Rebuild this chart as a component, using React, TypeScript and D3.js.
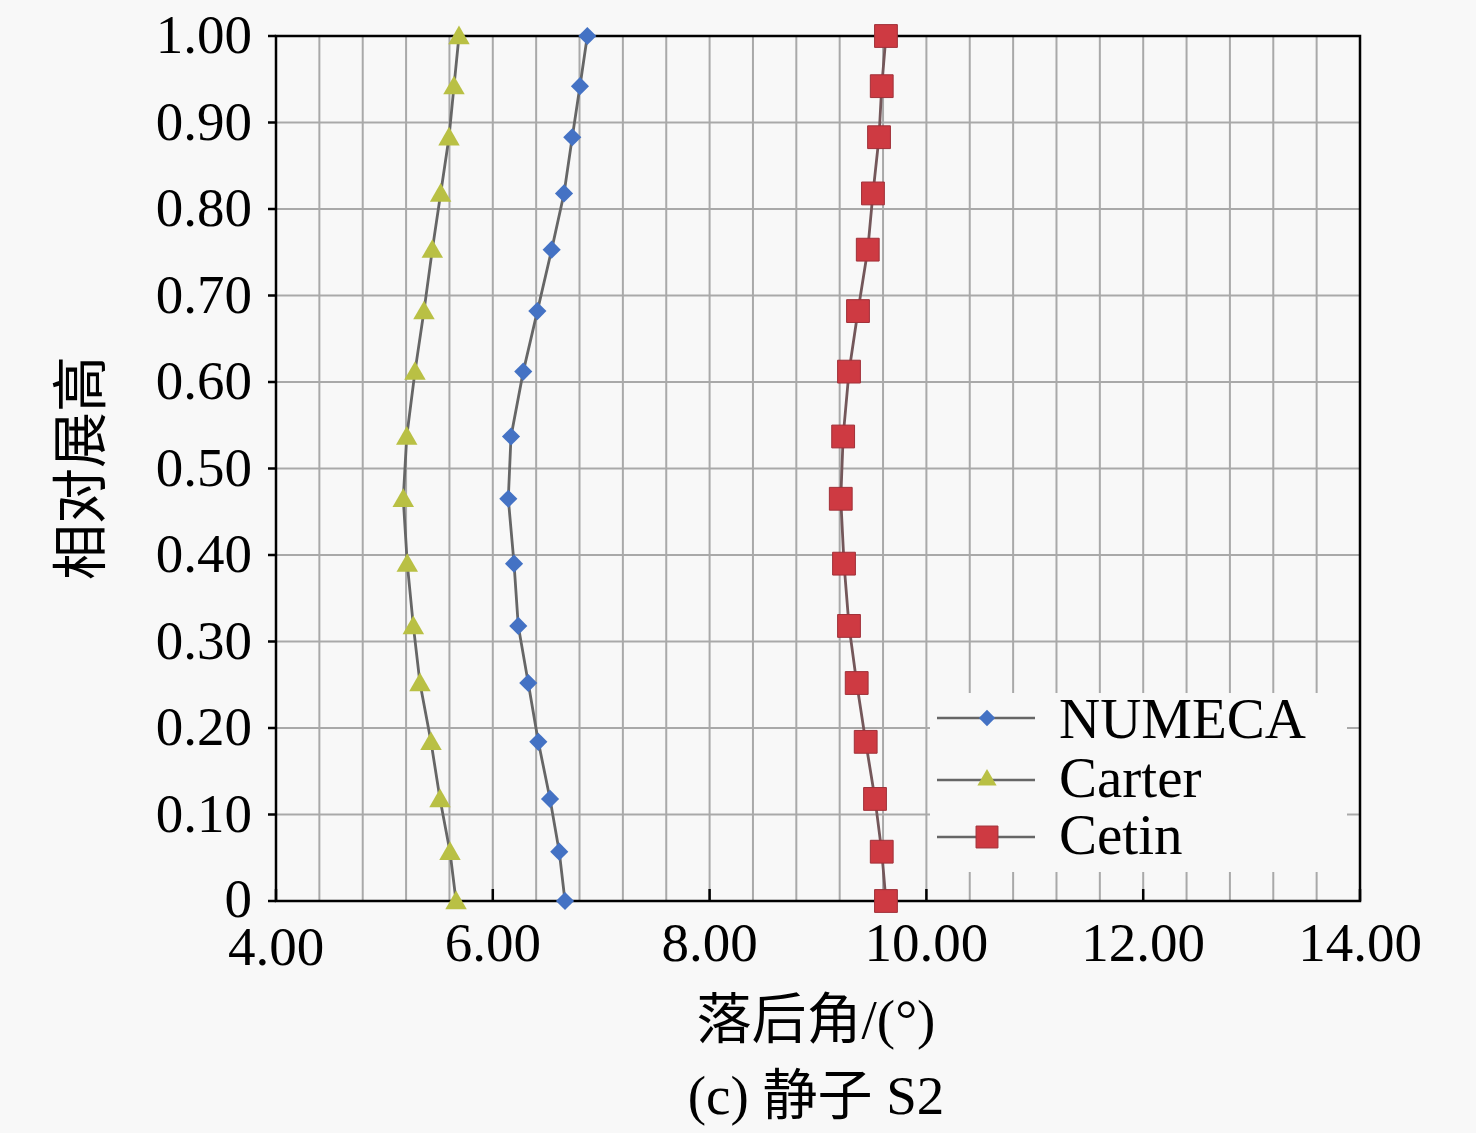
import React from "react";
import * as d3 from "d3";

// Relative span positions (shared by all series)
const spans = [0, 0.057, 0.118, 0.184, 0.252, 0.318, 0.39, 0.465, 0.537, 0.612, 0.682, 0.753, 0.818, 0.883, 0.942, 1.0];
const numeca = [6.666, 6.613, 6.528, 6.42, 6.327, 6.235, 6.196, 6.143, 6.168, 6.281, 6.411, 6.543, 6.657, 6.733, 6.804, 6.872];
const carter = [5.661, 5.605, 5.513, 5.43, 5.328, 5.267, 5.211, 5.174, 5.206, 5.282, 5.365, 5.442, 5.519, 5.596, 5.642, 5.688];
const cetin = [9.627, 9.588, 9.526, 9.44, 9.357, 9.286, 9.24, 9.21, 9.232, 9.286, 9.369, 9.459, 9.507, 9.563, 9.588, 9.627];

const seriesNames = ["NUMECA", "Carter", "Cetin"];
const xTicks = [4, 6, 8, 10, 12, 14];
const yTicks = [0, 0.1, 0.2, 0.3, 0.4, 0.5, 0.6, 0.7, 0.8, 0.9, 1.0];
const xTitle = "落后角/(°)";
const yTitle = "相对展高";
const caption = "(c) 静子 S2";

const W = 1476;
const H = 1133;
const M = { left: 276, right: 1360, top: 36, bottom: 901 };
const BG = "#f8f8f8";
const FONT = "'Liberation Serif', 'Times New Roman', 'Noto Sans CJK SC', serif";

const x = d3.scaleLinear().domain([4, 14]).range([M.left, M.right]);
const y = d3.scaleLinear().domain([0, 1]).range([M.bottom, M.top]);

const colors = ["#4472C4", "#B9C044", "#CE3A42"];
const symbols = [d3.symbolDiamond2, d3.symbolTriangle, d3.symbolSquare];
const sizes = [210, 200, 520];
const legendSizes = [170, 160, 480];

const yFmt = (v: number) => (v === 0 ? "0" : v.toFixed(2));

export default function App() {
  const data = [numeca, carter, cetin];
  const line = d3
    .line<number>()
    .x((d) => x(d))
    .y((_, i) => y(spans[i]));

  const vGrid = d3.range(1, 25).map((i) => 4 + i * 0.4);
  const hGrid = d3.range(1, 10).map((i) => i / 10);

  const legendRows = [718, 780, 837];
  const legendBase = [738, 797, 854];

  return (
    <svg
      width={W}
      height={H}
      style={{ position: "absolute", left: 0, top: 0, background: BG }}
      fontFamily={FONT}
    >
      <rect x={0} y={0} width={W} height={H} fill={BG} />
      {/* grid */}
      {vGrid.map((v, i) => (
        <line key={"vg" + i} x1={x(v)} x2={x(v)} y1={M.top} y2={M.bottom} stroke="#a9a9a9" strokeWidth={2} />
      ))}
      {hGrid.map((v, i) => (
        <line key={"hg" + i} x1={M.left} x2={M.right} y1={y(v)} y2={y(v)} stroke="#a9a9a9" strokeWidth={2} />
      ))}
      {/* legend background */}
      <rect x={930} y={693} width={417} height={179} fill={BG} />
      {/* frame */}
      <rect x={M.left} y={M.top} width={M.right - M.left} height={M.bottom - M.top} fill="none" stroke="#000" strokeWidth={2.5} />
      {/* y ticks */}
      {yTicks.map((v, i) => (
        <g key={"yt" + i}>
          <line x1={M.left - 8} x2={M.left} y1={y(v)} y2={y(v)} stroke="#000" strokeWidth={2.5} />
          <text x={252} y={y(v) + (i === 0 ? 16 : 17)} textAnchor="end" fontSize={55} fill="#000">
            {yFmt(v)}
          </text>
        </g>
      ))}
      {/* x ticks */}
      {xTicks.map((v, i) => (
        <g key={"xt" + i}>
          <line x1={x(v)} x2={x(v)} y1={M.bottom} y2={M.bottom - 12} stroke="#000" strokeWidth={2.5} />
          <text x={x(v)} y={961 + (i === 0 ? 4 : 0)} textAnchor="middle" fontSize={55} fill="#000">
            {v.toFixed(2)}
          </text>
        </g>
      ))}
      {/* series */}
      {data.map((s, k) => (
        <g key={"s" + k}>
          <path d={line(s) || ""} fill="none" stroke={k === 2 ? "#74575a" : "#666666"} strokeWidth={2.8} />
          {s.map((v, i) => (
            <path
              key={i}
              d={d3.symbol().type(symbols[k]).size(sizes[k])() || ""}
              transform={`translate(${x(v)},${y(spans[i]) + (k === 1 ? 2 : 0)})`}
              fill={colors[k]}
              stroke={k === 2 ? "#a03038" : "none"}
              strokeWidth={1}
            />
          ))}
        </g>
      ))}
      {/* legend */}
      {seriesNames.map((n, k) => (
        <g key={"lg" + k}>
          <line x1={937} x2={1035} y1={legendRows[k]} y2={legendRows[k]} stroke="#666666" strokeWidth={2.6} />
          <path
            d={d3.symbol().type(symbols[k]).size(legendSizes[k])() || ""}
            transform={`translate(987,${legendRows[k]})`}
            fill={colors[k]}
            stroke={k === 2 ? "#a03038" : "none"}
          />
          <text x={1059} y={legendBase[k]} fontSize={57} fill="#000">
            {n}
          </text>
        </g>
      ))}
      {/* titles */}
      <text x={816} y={1038} textAnchor="middle" fontSize={55} fill="#000">
        {xTitle}
      </text>
      <text x={816} y={1114} textAnchor="middle" fontSize={55} fill="#000">
        {caption}
      </text>
      <text
        transform={`translate(100,468) rotate(-90)`}
        textAnchor="middle"
        fontSize={56}
        fill="#000"
      >
        {yTitle}
      </text>
    </svg>
  );
}
